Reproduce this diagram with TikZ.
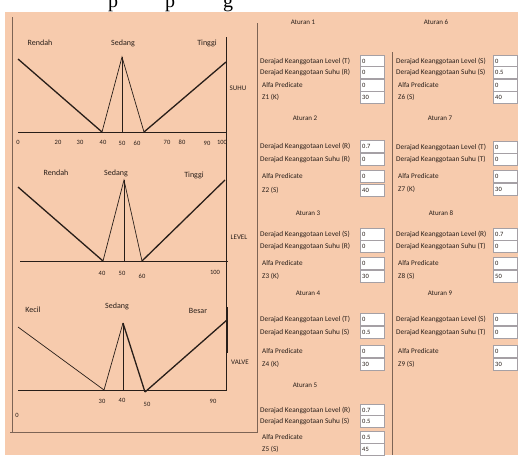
\documentclass[tikz,border=0pt]{standalone}
\usepackage{fontspec}
\setmainfont{Carlito}
\newfontfamily\capfont{Liberation Serif}
\definecolor{peach}{RGB}{247,203,173}
\definecolor{framec}{RGB}{125,100,85}
\definecolor{ink}{RGB}{40,30,25}
\definecolor{boxline}{RGB}{165,160,165}
\newcommand\rrow[7]{%
  \node[#2] (#1l) at (#3,#4) {#5};
  \node[valbox] (#1v) at (#6,#4) {#7};}
\begin{document}
\begin{tikzpicture}[x=1pt,y=-1pt,
  gl/.style={font=\fontsize{8}{9}\selectfont, text=ink, inner sep=0pt},
  tick/.style={font=\fontsize{6.5}{7}\selectfont, text=ink, inner sep=0pt},
  axl/.style={font=\fontsize{7}{8}\selectfont, text=ink, inner sep=0pt},
  ttl/.style={font=\fontsize{7}{8}\selectfont, text=ink, inner sep=0pt},
  dlab/.style={font=\fontsize{7.3}{8}\selectfont, text=ink, anchor=west, inner sep=0pt},
  slab/.style={font=\fontsize{7.2}{8}\selectfont, text=ink, anchor=west, inner sep=0pt},
  valbox/.style={draw=boxline, fill=white, line width=0.4pt, anchor=west,
    minimum width=24pt, minimum height=12pt, text width=20pt, inner sep=2pt,
    font=\fontsize{6.5}{7}\selectfont, text=ink, align=left},
  thickl/.style={line width=1.3pt, draw=ink},
  thinl/.style={line width=0.7pt, draw=ink},
  baseln/.style={line width=1pt, draw=ink},
  framel/.style={line width=0.9pt, draw=framec},
  capl/.style={font=\capfont\fontsize{20}{22}\selectfont, anchor=base, inner sep=0pt}]
\useasboundingbox (0,0) rectangle (518,455);
\fill[white] (0,0) rectangle (518,455);
\fill[peach] (5,12) rectangle (518,455);
% cut-off caption fragments
\node[capl] (c1) at (113,8) {p};
\node[capl] (c2) at (170,8) {p};
\node[capl] (c3) at (228,8) {g};
% frames
\coordinate (fl1) at (12,17);
\coordinate (fl2) at (12,432);
\coordinate (fb1) at (10,432);
\coordinate (fb2) at (258,432);
\coordinate (fr1) at (257,23);
\coordinate (fr2) at (257,433);
\coordinate (fc1) at (392,52);
\coordinate (fc2) at (392,455);
\draw[framel] (fl1) -- (fl2);
\draw[framel] (fb1) -- (fb2);
\draw[framel] (fr1) -- (fr2);
\draw[framel] (fc1) -- (fc2);
% right axis line of the graphs
\coordinate (ra1) at (226,37);
\coordinate (ra2) at (226,390);
\coordinate (rb1) at (227,307);
\coordinate (rb2) at (227,353);
\draw[thinl] (ra1) -- (ra2);
\draw[line width=1.4pt, draw=ink] (rb1) -- (rb2);
% ---------- SUHU ----------
\coordinate (s0) at (18,132);
\coordinate (sR) at (18,59);
\coordinate (s40) at (102,132);
\coordinate (sP) at (122,57);
\coordinate (s50) at (122,132);
\coordinate (s60) at (144,132);
\coordinate (sT) at (226,62);
\coordinate (sE) at (226,132);
\draw[baseln] (s0) -- (sE);
\draw[thickl] (sR) -- (s40);
\draw[thinl] (s40) -- (sP) -- (s60);
\draw[thinl] (sP) -- (s50);
\draw[thickl] (s60) -- (sT);
\node[gl] (sRl) at (40,43) {Rendah};
\node[gl] (sSl) at (123,43) {Sedang};
\node[gl] (sTl) at (207,43) {Tinggi};
\node[axl] (suhu) at (238,88) {SUHU};
\node[tick] (st0) at (18,142) {0};
\node[tick] (st20) at (58,142) {20};
\node[tick] (st30) at (80,142) {30};
\node[tick] (st40) at (103,142) {40};
\node[tick] (st50) at (122,143) {50};
\node[tick] (st60) at (137,143) {60};
\node[tick] (st70) at (167,142) {70};
\node[tick] (st80) at (182,142) {80};
\node[tick] (st90) at (207,143) {90};
\node[tick] (st100) at (222,142) {100};
% ---------- LEVEL ----------
\coordinate (l0) at (20,261);
\coordinate (lR) at (18,187);
\coordinate (l40) at (103,261);
\coordinate (lP) at (124,180);
\coordinate (l50) at (124,261);
\coordinate (l60) at (142,261);
\coordinate (lT) at (225,180);
\coordinate (lE) at (228,261);
\draw[baseln] (l0) -- (lE);
\draw[thickl] (lR) -- (l40);
\draw[thinl] (l40) -- (lP) -- (l60);
\draw[thinl] (lP) -- (l50);
\draw[thickl] (l60) -- (lT);
\node[gl] (lRl) at (56,173) {Rendah};
\node[gl] (lSl) at (116,173) {Sedang};
\node[gl] (lTl) at (194,175) {Tinggi};
\node[axl] (level) at (239,237) {LEVEL};
\node[tick] (lt40) at (102,273) {40};
\node[tick] (lt50) at (122,273) {50};
\node[tick] (lt60) at (142,276) {60};
\node[tick] (lt100) at (215,272) {100};
% ---------- VALVE ----------
\coordinate (v0) at (18,390);
\coordinate (vK) at (18,327);
\coordinate (v30) at (104,390);
\coordinate (vP) at (123,323);
\coordinate (v40) at (123,390);
\coordinate (v50) at (145,392);
\coordinate (vB) at (227,320);
\coordinate (vE) at (227,390);
\draw[baseln] (v0) -- (vE);
\draw[thinl] (vK) -- (v30);
\draw[thinl] (v30) -- (vP);
\draw[thickl] (vP) -- (v50);
\draw[thinl] (vP) -- (v40);
\draw[thickl] (v50) -- (vB);
\node[gl] (vKl) at (33,310) {Kecil};
\node[gl] (vSl) at (117,306) {Sedang};
\node[gl] (vBl) at (198,311) {Besar};
\node[axl] (valve) at (240,362) {VALVE};
\node[tick] (vt0) at (17,415) {0};
\node[tick] (vt30) at (102,401) {30};
\node[tick] (vt40) at (122,400) {40};
\node[tick] (vt50) at (147,404) {50};
\node[tick] (vt90) at (213,401) {90};
% ---------- column 1 ----------
\node[ttl] (a1) at (303,22) {Aturan 1};
\rrow{a1r1}{dlab}{260}{61}{Derajad Keanggotaan Level (T)}{360}{0}
\rrow{a1r2}{dlab}{260}{72}{Derajad Keanggotaan Suhu (R)}{360}{0}
\rrow{a1r3}{slab}{262}{85}{Alfa Predicate}{360}{0}
\rrow{a1r4}{slab}{262}{97}{Z1 (K)}{360}{30}
\node[ttl] (a2) at (305,118) {Aturan 2};
\rrow{a2r1}{dlab}{260}{146}{Derajad Keanggotaan Level (R)}{360}{0.7}
\rrow{a2r2}{dlab}{260}{159}{Derajad Keanggotaan Suhu (R)}{360}{0}
\rrow{a2r3}{slab}{262}{176}{Alfa Predicate}{360}{0}
\rrow{a2r4}{slab}{262}{190}{Z2 (S)}{360}{40}
\node[ttl] (a3) at (308,213) {Aturan 3};
\rrow{a3r1}{dlab}{260}{234}{Derajad Keanggotaan Level (S)}{360}{0}
\rrow{a3r2}{dlab}{260}{246}{Derajad Keanggotaan Suhu (R)}{360}{0}
\rrow{a3r3}{slab}{262}{263}{Alfa Predicate}{360}{0}
\rrow{a3r4}{slab}{262}{276}{Z3 (K)}{360}{30}
\node[ttl] (a4) at (308,293) {Aturan 4};
\rrow{a4r1}{dlab}{260}{319}{Derajad Keanggotaan Level (T)}{360}{0}
\rrow{a4r2}{dlab}{260}{332}{Derajad Keanggotaan Suhu (S)}{360}{0.5}
\rrow{a4r3}{slab}{262}{351}{Alfa Predicate}{360}{0}
\rrow{a4r4}{slab}{262}{364}{Z4 (K)}{360}{30}
\node[ttl] (a5) at (305,385) {Aturan 5};
\rrow{a5r1}{dlab}{260}{410}{Derajad Keanggotaan Level (R)}{360}{0.7}
\rrow{a5r2}{dlab}{260}{421}{Derajad Keanggotaan Suhu (S)}{360}{0.5}
\rrow{a5r3}{slab}{262}{437}{Alfa Predicate}{360}{0.5}
\rrow{a5r4}{slab}{262}{449}{Z5 (S)}{360}{45}
% ---------- column 2 ----------
\node[ttl] (a6) at (436,22) {Aturan 6};
\rrow{a6r1}{dlab}{396}{61}{Derajad Keanggotaan Level (S)}{493}{0}
\rrow{a6r2}{dlab}{396}{72}{Derajad Keanggotaan Suhu (S)}{493}{0.5}
\rrow{a6r3}{slab}{398}{85}{Alfa Predicate}{493}{0}
\rrow{a6r4}{slab}{398}{97}{Z6 (S)}{493}{40}
\node[ttl] (a7) at (440,118) {Aturan 7};
\rrow{a7r1}{dlab}{396}{147}{Derajad Keanggotaan Level (T)}{493}{0}
\rrow{a7r2}{dlab}{396}{159}{Derajad Keanggotaan Suhu (T)}{493}{0}
\rrow{a7r3}{slab}{398}{176}{Alfa Predicate}{493}{0}
\rrow{a7r4}{slab}{398}{189}{Z7 (K)}{493}{30}
\node[ttl] (a8) at (441,213) {Aturan 8};
\rrow{a8r1}{dlab}{396}{234}{Derajad Keanggotaan Level (R)}{493}{0.7}
\rrow{a8r2}{dlab}{396}{246}{Derajad Keanggotaan Suhu (T)}{493}{0}
\rrow{a8r3}{slab}{398}{263}{Alfa Predicate}{493}{0}
\rrow{a8r4}{slab}{398}{276}{Z8 (S)}{493}{50}
\node[ttl] (a9) at (440,293) {Aturan 9};
\rrow{a9r1}{dlab}{396}{319}{Derajad Keanggotaan Level (S)}{493}{0}
\rrow{a9r2}{dlab}{396}{332}{Derajad Keanggotaan Suhu (T)}{493}{0}
\rrow{a9r3}{slab}{398}{351}{Alfa Predicate}{493}{0}
\rrow{a9r4}{slab}{398}{364}{Z9 (S)}{493}{30}
\end{tikzpicture}
\end{document}
